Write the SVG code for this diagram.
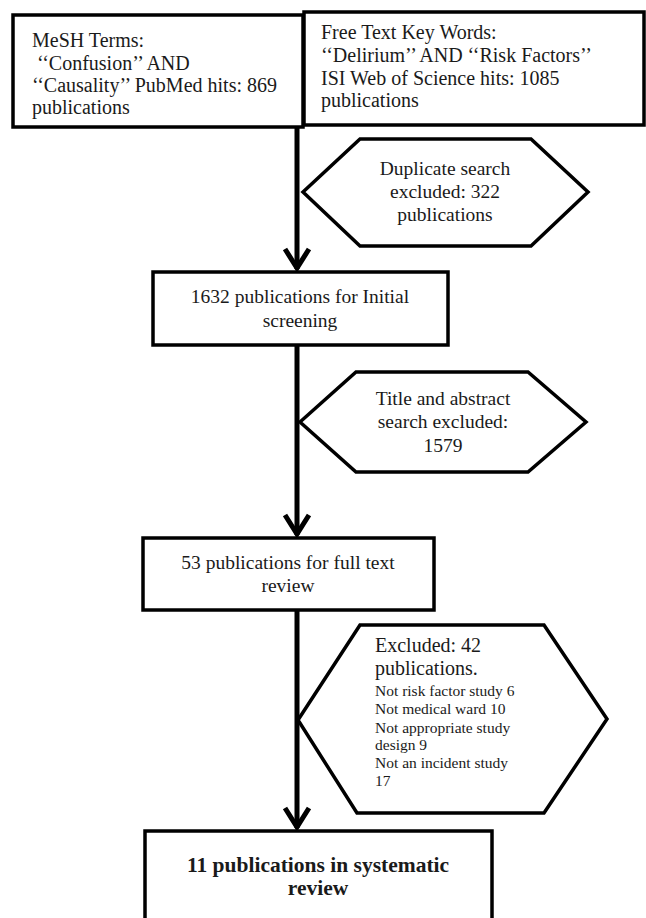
<svg xmlns="http://www.w3.org/2000/svg" width="646" height="918" viewBox="0 0 646 918">
<style>
.box{fill:#fff;stroke:#000;stroke-width:3.5}
.hex{fill:#fff;stroke:#000;stroke-width:3.5;stroke-linejoin:miter}
.t{font-family:"Liberation Serif","Times New Roman",serif;font-size:19.5px;fill:#1a1a1a}
.top{font-size:20px}
.c{text-anchor:middle}
.s{font-size:15.5px}
.b{font-weight:bold;font-size:21.5px}
.line{stroke:#000;stroke-width:5;fill:none}
</style>
<defs>
<marker id="arr" markerUnits="userSpaceOnUse" viewBox="-26 -16 30 32" markerWidth="30" markerHeight="32" refX="0" refY="0" orient="auto">
<path d="M -20 -12 L -1 0 L -20 12" fill="none" stroke="#000" stroke-width="5"/>
</marker>
</defs>
<rect width="646" height="918" fill="#fff"/>
<g id="mesh">
<rect class="box" x="13" y="15" width="290" height="112"/>
<text class="t top" x="32" y="47">MeSH Terms:</text>
<text class="t top" x="37" y="70">‘‘Confusion’’ AND</text>
<text class="t top" x="32" y="92">‘‘Causality’’ PubMed hits: 869</text>
<text class="t top" x="32" y="114">publications</text>
</g>
<g id="freetext">
<rect class="box" x="304" y="12" width="340" height="113"/>
<text class="t top" x="321" y="39">Free Text Key Words:</text>
<text class="t top" x="321" y="62">‘‘Delirium’’ AND ‘‘Risk Factors’’</text>
<text class="t top" x="321" y="85">ISI Web of Science hits: 1085</text>
<text class="t top" x="321" y="107">publications</text>
</g>
<g id="duplicates">
<polygon class="hex" points="303,192 360,139 531,139 588,192 531,246 360,246"/>
<text class="t c" x="445" y="175">Duplicate search</text>
<text class="t c" x="445" y="198">excluded: 322</text>
<text class="t c" x="445" y="221">publications</text>
</g>
<g id="initial">
<rect class="box" x="153" y="272" width="295" height="73"/>
<text class="t c" x="300" y="303">1632 publications for Initial</text>
<text class="t c" x="300" y="327">screening</text>
</g>
<g id="titleabstract">
<polygon class="hex" points="300,422 356,372 528,372 586,422 528,472 356,472"/>
<text class="t c" x="443" y="405">Title and abstract</text>
<text class="t c" x="443" y="428">search excluded:</text>
<text class="t c" x="443" y="452">1579</text>
</g>
<g id="fulltext">
<rect class="box" x="143" y="538" width="291" height="72"/>
<text class="t c" x="288" y="569">53 publications for full text</text>
<text class="t c" x="288" y="592">review</text>
</g>
<g id="excluded">
<polygon class="hex" points="298,720 360,625 544,625 607,719 544,813 357,813"/>
<text class="t top" x="375" y="652">Excluded: 42</text>
<text class="t top" x="375" y="675">publications.</text>
<text class="t s" x="375" y="696">Not risk factor study 6</text>
<text class="t s" x="375" y="714">Not medical ward 10</text>
<text class="t s" x="375" y="733">Not appropriate study</text>
<text class="t s" x="375" y="750">design 9</text>
<text class="t s" x="375" y="768">Not an incident study</text>
<text class="t s" x="375" y="786">17</text>
</g>
<g id="final">
<rect class="box" x="145" y="831" width="347" height="110"/>
<text class="t c b" x="318" y="872">11 publications in systematic</text>
<text class="t c b" x="318" y="895">review</text>
</g>
<g id="connectors">
<line class="line" x1="297" y1="127" x2="297" y2="269" marker-end="url(#arr)"/>
<line class="line" x1="297" y1="346" x2="297" y2="535" marker-end="url(#arr)"/>
<line class="line" x1="297" y1="611" x2="297" y2="828" marker-end="url(#arr)"/>
</g>
</svg>
